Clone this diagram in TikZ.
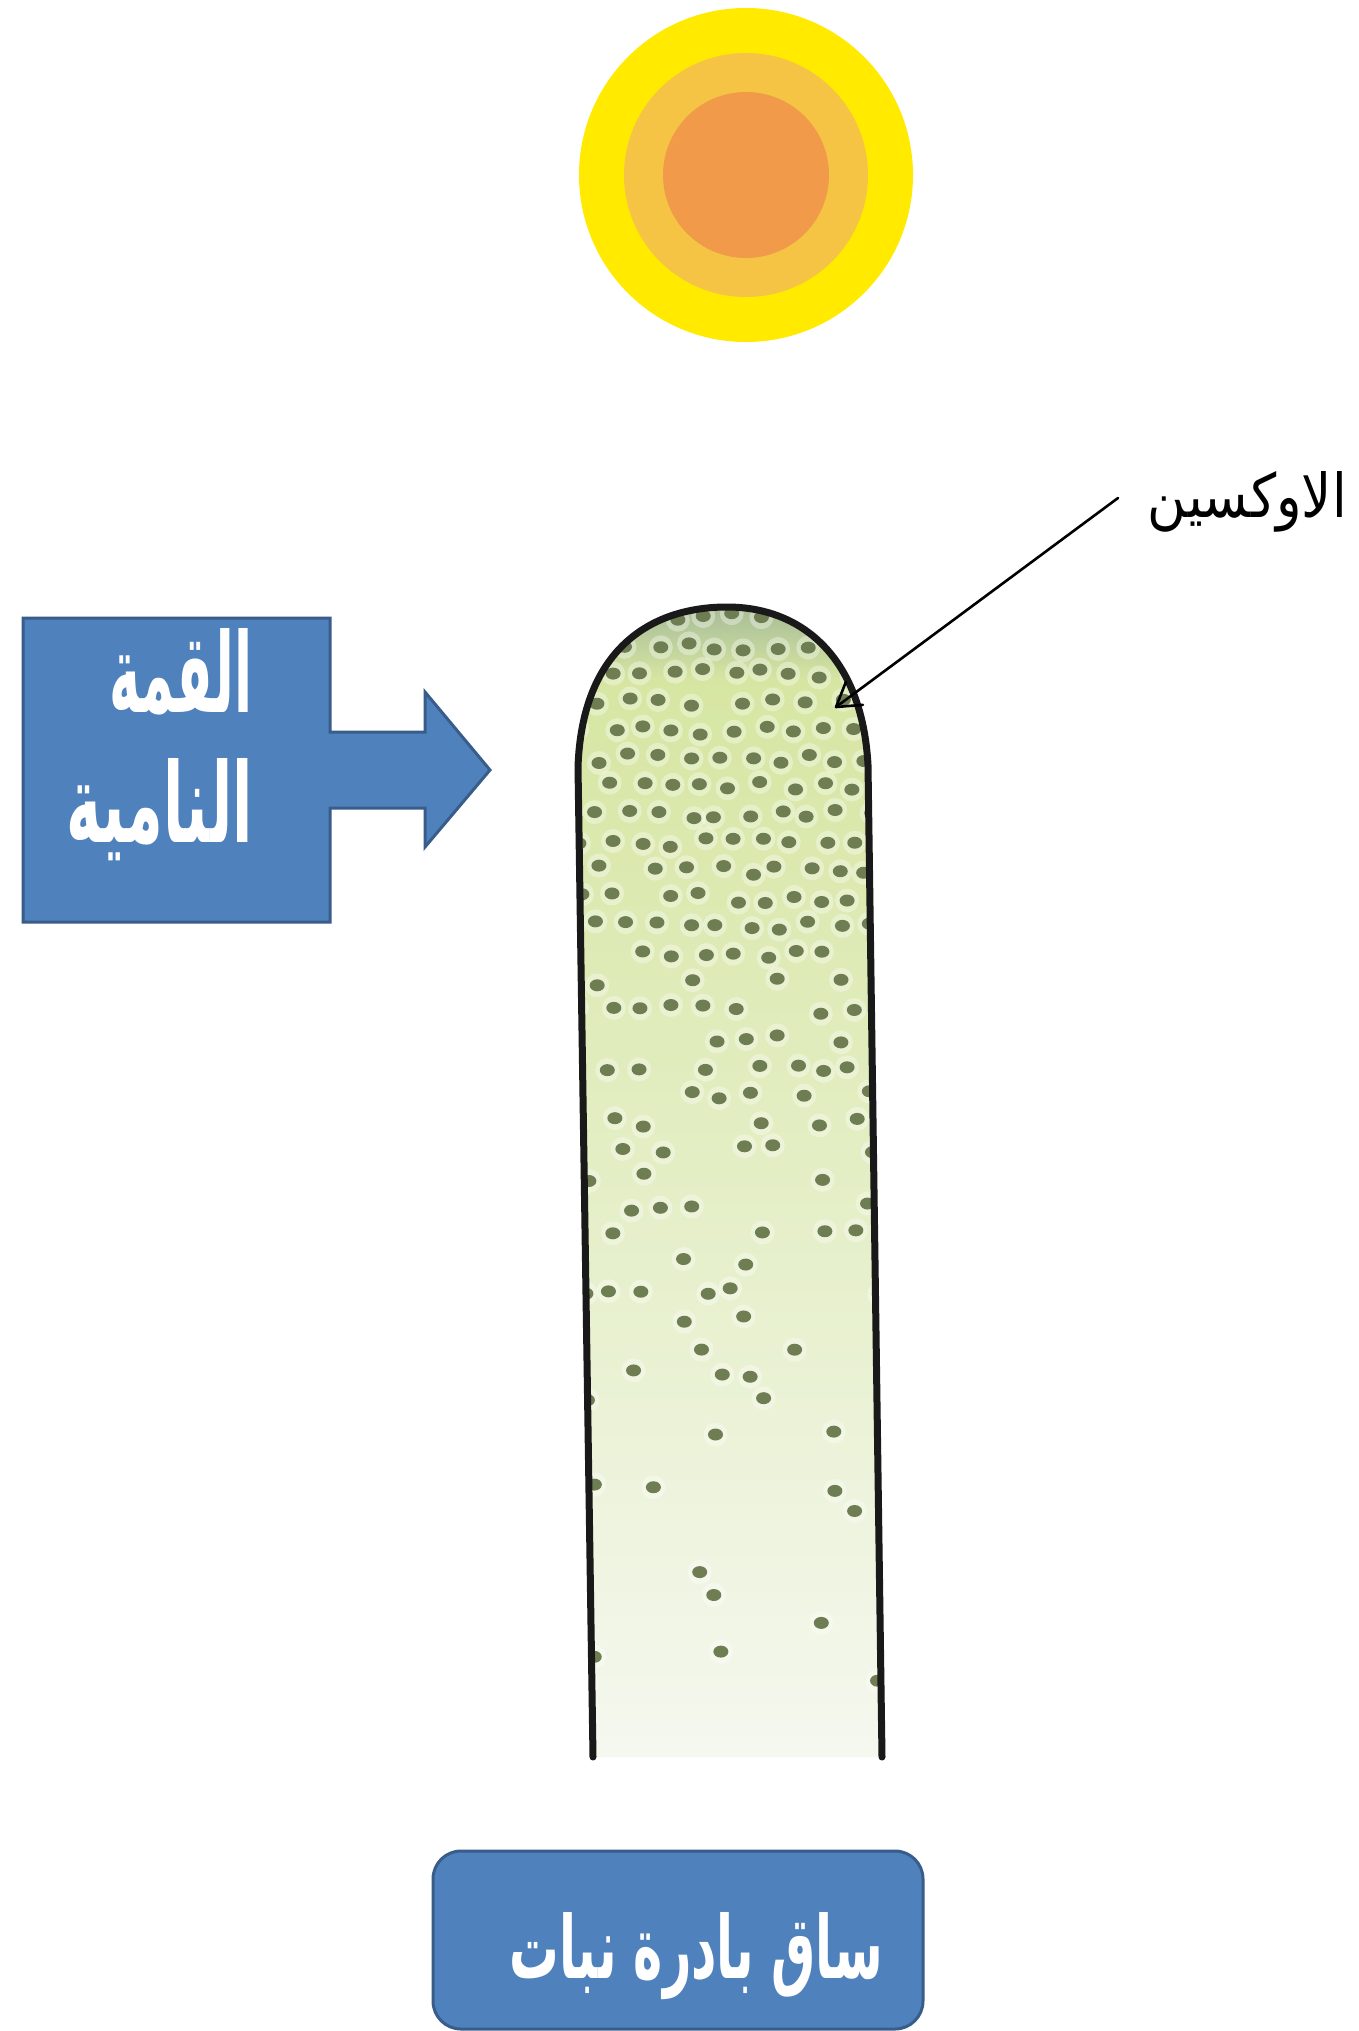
\documentclass[tikz,border=0pt]{standalone}
\usepackage{fontspec}
\usetikzlibrary{arrows.meta,calc}
\TeXXeTstate=1
\newfontfamily\arabicfont[Script=Arabic,BoldFont={DejaVu Sans Bold}]{DejaVu Sans}
\definecolor{sunout}{HTML}{FFEA00}
\definecolor{sunmid}{HTML}{F5C444}
\definecolor{suncore}{HTML}{F09A4A}
\definecolor{boxblue}{HTML}{4F81BD}
\definecolor{boxedge}{HTML}{385D8A}
\definecolor{tiptone}{HTML}{A3B896}
\definecolor{greenA}{HTML}{D6E6A2}
\definecolor{paleA}{HTML}{F5F8F0}
\definecolor{dotc}{HTML}{6E7E52}
\tikzset{
  whitelabel/.style={inner sep=0pt, text=white, font=\arabicfont\bfseries},
  blacklabel/.style={inner sep=0pt, text=black, font=\arabicfont},
  calloutbox/.style={fill=boxblue, draw=boxedge, line width=3pt, line join=miter},
  outline/.style={draw=black!90, line width=7pt, line cap=round, line join=round},
  pointer/.style={line width=2.6pt, line cap=round, line join=round},
}
\begin{document}
\begin{tikzpicture}[x=1pt,y=-1pt]
\useasboundingbox (0,0) rectangle (1359,2031);
\fill[white] (0,0) rectangle (1359,2031);

% sun
\fill[sunout] (746,175) circle [radius=167pt];
\fill[sunmid] (746,175) circle [radius=122pt];
\fill[suncore] (746,175) circle [radius=83pt];

% seedling stem: shaded body with scattered auxin dots
\begin{scope}
  \clip (593,1757) -- (578,767) .. controls (582,650) and (650,607) .. (727,607)
        .. controls (800,607) and (862,655) .. (868,765) -- (882,1757) -- cycle;
  \shade[top color=tiptone, bottom color=greenA] (570,600) rectangle (890,680);
  \shade[top color=greenA, bottom color=paleA] (570,679) rectangle (890,1765);
  \pgfmathsetseed{23}
  \foreach \j in {0,...,40}{
    \foreach \i in {0,...,10}{
      \pgfmathsetmacro{\yy}{618+28*\j+5*rand}
      \pgfmathsetmacro{\xx}{583+30*\i+15*mod(\j,2)+6*rand}
      \pgfmathsetmacro{\pk}{0.11+0.84*exp(-max(0,\yy-880)/240)}
      \pgfmathtruncatemacro{\keep}{rnd<\pk ? 1 : 0}
      \ifnum\keep=1
        \fill[white, opacity=0.35] (\xx,\yy) circle [radius=12pt];
        \fill[dotc] (\xx,\yy) ellipse [x radius=7.5pt, y radius=6pt];
      \fi
    }
  }
\end{scope}
\draw[outline] (593,1757) -- (578,767) .. controls (582,650) and (650,607) .. (727,607)
      .. controls (800,607) and (862,655) .. (868,765) -- (882,1757);
\coordinate (tip) at (836,707);

% callout pointing at the growing tip
\draw[calloutbox] (23,618) -- (330,618) -- (330,732) -- (425,732) -- (425,692)
  -- (490,770) -- (425,847) -- (425,808) -- (330,808) -- (330,922) -- (23,922) -- cycle;
\node[whitelabel, anchor=base east] (tipA) at (253,712)
  {\resizebox{143pt}{84pt}{\beginR القمة\endR}};
\node[whitelabel, anchor=base east] (tipB) at (253,842)
  {\resizebox{186pt}{84pt}{\beginR النامية\endR}};

% auxin label and pointer
\node[blacklabel, anchor=base east] (auxin) at (1347,517)
  {\resizebox{199pt}{46pt}{\beginR الاوكسين\endR}};
\coordinate (auxstart) at (1118,498);
\draw[pointer] (auxstart) -- (tip);
\draw[pointer] ($(tip)!27pt!32:(auxstart)$) -- (tip) -- ($(tip)!27pt!-32:(auxstart)$);

% caption box
\node[fill=boxblue, draw=boxedge, line width=3pt, rounded corners=28pt,
      minimum width=490pt, minimum height=178pt, inner sep=0pt] (caption) at (678,1940) {};
\node[whitelabel, anchor=base east] (captxt) at (883,1978)
  {\resizebox{373pt}{66pt}{\beginR ساق بادرة نبات\endR}};
\end{tikzpicture}
\end{document}
